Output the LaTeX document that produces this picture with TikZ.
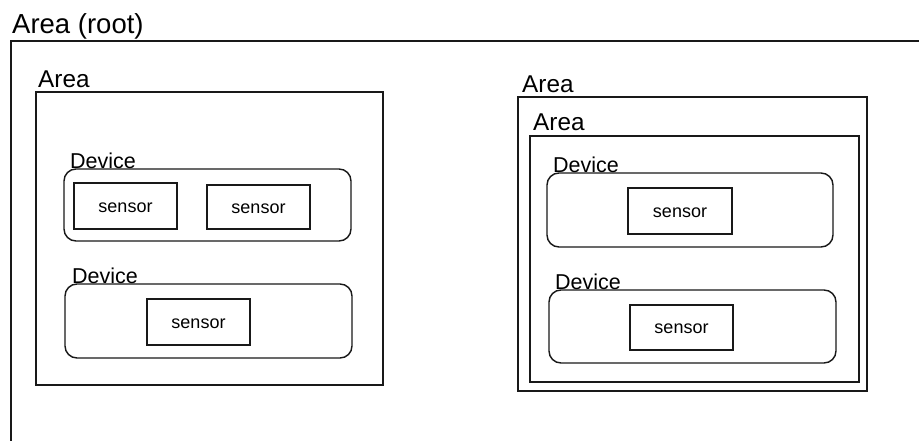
\documentclass[tikz,border=0pt]{standalone}
\usepackage{fontspec}
\setmainfont{Liberation Sans}
\begin{document}
\begin{tikzpicture}[x=1pt,y=-1pt,
  frame/.style={draw=black!90, line width=1.45pt},
  box/.style={frame, rectangle, inner sep=0pt, outer sep=0pt, anchor=north west},
  devbox/.style={box, rounded corners=12pt},
  sens/.style={box, font=\fontsize{18}{21}\selectfont, text height=12.4pt, text depth=0pt},
  lbl/.style={anchor=base west, inner sep=0pt},
  rootlbl/.style={lbl, font=\fontsize{27.5}{31}\selectfont},
  arealbl/.style={lbl, font=\fontsize{24.3}{28}\selectfont},
  devlbl/.style={lbl, font=\fontsize{21.5}{25}\selectfont}]
\useasboundingbox (0,0) rectangle (919,441);
% root area
\coordinate (rootA) at (11,443);
\coordinate (rootB) at (11,41);
\coordinate (rootC) at (921,41);
\draw[frame] (rootA) -- (rootB) -- (rootC);
\node[rootlbl] (lroot) at (12,34) {Area (root)};
% left area
\node[box, minimum width=347pt, minimum height=293pt] (areaL) at (36,92) {};
\node[arealbl] (lareaL) at (38,88) {Area};
\node[devbox, minimum width=287pt, minimum height=72pt] (dev1) at (64,169) {};
\node[devlbl] (ldev1) at (70,168) {Device};
\node[sens, minimum width=103pt, minimum height=46pt] (s1) at (74,183) {sensor};
\node[sens, minimum width=103pt, minimum height=44pt] (s2) at (207,185) {sensor};
\node[devbox, minimum width=287pt, minimum height=74pt] (dev2) at (65,284) {};
\node[devlbl] (ldev2) at (72,283) {Device};
\node[sens, minimum width=103pt, minimum height=46pt] (s3) at (147,299) {sensor};
% right areas
\node[box, minimum width=349pt, minimum height=294pt] (areaR) at (518,97) {};
\node[arealbl] (lareaR) at (522,93) {Area};
\node[box, minimum width=329pt, minimum height=246pt] (areaI) at (530,136) {};
\node[arealbl] (lareaI) at (533,131) {Area};
\node[devbox, minimum width=286pt, minimum height=74pt] (dev3) at (547,173) {};
\node[devlbl] (ldev3) at (553,173) {Device};
\node[sens, minimum width=104pt, minimum height=46pt] (s4) at (628,188) {sensor};
\node[devbox, minimum width=287pt, minimum height=73pt] (dev4) at (549,290) {};
\node[devlbl] (ldev4) at (555,289) {Device};
\node[sens, minimum width=103pt, minimum height=45pt] (s5) at (630,305) {sensor};
\end{tikzpicture}
\end{document}
